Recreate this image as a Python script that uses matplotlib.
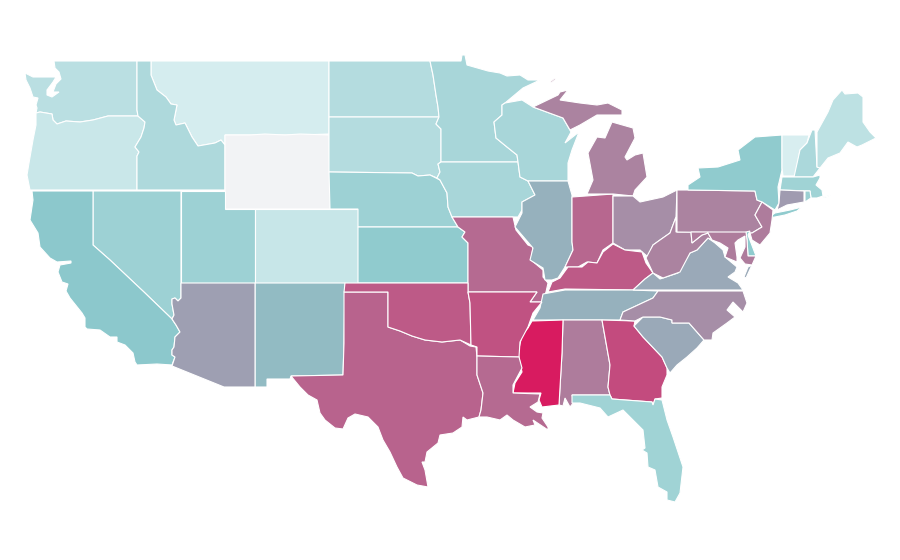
from __future__ import annotations

import matplotlib.pyplot as plt
from matplotlib.colors import LinearSegmentedColormap
from matplotlib.patches import Polygon

NO_DATA = "#f2f3f5"
states = ["MT", "WA", "OR", "ID", "WY", "NV", "UT", "CA", "CO", "NM", "AZ", "ND", "SD", "NE", "KS", "MN", "IA",
          "WI", "MO", "IL", "IN", "MI", "OH", "KY", "TN", "AL", "MS", "GA", "FL", "SC", "NC", "VA", "WV", "PA",
          "NY", "VT", "NH", "ME", "MA", "CT", "RI", "NJ", "DE", "MD", "TX", "OK", "AR", "LA"]
values = [2, 20, 10, 28, None, 39, 39, 50, 11, 54, 62, 24, 24, 39, 47, 32, 32,
          32, 77, 57, 78, 70, 67, 82, 57, 72, 100, 86, 37, 59, 67, 59, 70, 70,
          47, 0, 30, 18, 37, 63, 40, 72, 48, 72, 79, 82, 84, 77]

outlines = {
    "WA": [[(54, 61), (137, 61), (137, 110), (138, 116), (108, 116), (93, 120), (80, 122), (66, 121), (57, 124),
            (53, 120), (52, 114), (40, 112), (36, 113), (37, 108), (36, 105), (38, 98), (33, 97), (30, 88), (26, 80),
            (25, 73), (33, 77), (47, 77), (56, 77), (53, 82), (47, 90), (47, 95), (52, 97), (59, 92), (53, 92),
            (56, 84), (61, 79), (59, 72), (55, 68)]],
    "OR": [[(36, 113), (40, 112), (52, 114), (53, 120), (57, 124), (66, 121), (80, 122), (93, 120), (108, 116),
            (138, 116), (145, 122), (144, 128), (141, 137), (135, 147), (139, 152), (137, 156), (137, 190), (30, 190),
            (27, 175), (29, 163), (33, 140), (36, 125)]],
    "ID": [[(137, 61), (151, 61), (151, 75), (157, 90), (166, 97), (171, 104), (177, 105), (174, 120), (176, 125),
            (185, 123), (192, 137), (198, 146), (215, 143), (221, 140), (225, 145), (225, 190), (137, 190), (137, 156),
            (139, 152), (135, 147), (141, 137), (144, 128), (145, 122), (138, 116), (137, 110)]],
    "MT": [[(151, 61), (329, 61), (329, 134), (300, 135), (225, 135), (225, 145), (221, 140), (215, 143), (198, 146),
            (192, 137), (185, 123), (176, 125), (174, 120), (177, 105), (171, 104), (166, 97), (157, 90), (151, 75)]],
    "WY": [[(225, 135), (250, 135), (265, 134), (285, 135), (300, 134), (329, 135), (330, 209), (225, 209)]],
    "NV": [[(93, 191), (181, 191), (181, 298), (178, 301), (175, 298), (172, 299), (172, 304), (174, 315), (172, 319),
            (145, 293), (110, 260), (93, 245)]],
    "CA": [[(32, 191), (93, 191), (93, 245), (110, 260), (145, 293), (172, 319), (176, 325), (180, 332), (175, 337),
            (174, 347), (172, 350), (172, 355), (175, 357), (172, 365), (157, 364), (137, 365), (135, 362), (133, 353),
            (125, 345), (117, 342), (117, 337), (110, 337), (100, 330), (87, 329), (85, 327), (85, 318), (82, 313),
            (70, 298), (66, 291), (68, 284), (62, 282), (58, 272), (60, 265), (71, 263), (71, 261), (57, 262),
            (50, 258), (40, 247), (38, 233), (30, 220), (33, 200)]],
    "UT": [[(181, 191), (225, 191), (225, 209), (255, 209), (255, 283), (181, 283)]],
    "AZ": [[(181, 283), (225, 283), (234, 283), (255, 283), (255, 387), (224, 387), (172, 366), (175, 357), (172, 355),
            (172, 350), (174, 347), (175, 337), (180, 332), (176, 325), (172, 319), (174, 315), (172, 304), (172, 299),
            (175, 298), (178, 301), (181, 298)]],
    "CO": [[(255, 209), (358, 209), (358, 283), (255, 283)]],
    "NM": [[(255, 283), (345, 283), (344, 343), (343, 375), (291, 376), (290, 379), (267, 379), (267, 387), (255, 387)]],
    "TX": [[(344, 292), (388, 292), (388, 327), (400, 331), (412, 336), (425, 340), (442, 342), (460, 340), (470, 346),
            (476, 347), (477, 357), (477, 375), (483, 393), (481, 410), (479, 417), (467, 420), (463, 417), (462, 427),
            (453, 433), (440, 435), (438, 443), (427, 452), (425, 462), (422, 462), (425, 470), (428, 487), (417, 485),
            (403, 478), (397, 467), (390, 452), (383, 440), (378, 427), (368, 417), (355, 414), (348, 418), (343, 429),
            (335, 428), (325, 420), (320, 413), (317, 400), (308, 395), (300, 387), (291, 376), (343, 375), (344, 343)]],
    "OK": [[(345, 283), (468, 283), (468, 292), (470, 303), (471, 345), (460, 340), (442, 342), (425, 340), (412, 336),
            (400, 331), (388, 327), (388, 292), (344, 292)]],
    "KS": [[(358, 227), (458, 227), (465, 232), (462, 237), (468, 243), (468, 283), (358, 283)]],
    "NE": [[(329, 172), (412, 173), (418, 176), (430, 175), (440, 180), (447, 193), (448, 207), (452, 217), (458, 227),
            (358, 227), (358, 209), (330, 209)]],
    "SD": [[(329, 117), (439, 117), (436, 124), (441, 129), (441, 162), (438, 164), (440, 172), (437, 178), (430, 175),
            (418, 176), (412, 173), (329, 172)]],
    "ND": [[(329, 61), (430, 61), (433, 75), (436, 95), (438, 107), (439, 117), (329, 117)]],
    "MN": [[(430, 61), (461, 61), (462, 55), (465, 55), (467, 65), (488, 71), (500, 73), (507, 76), (520, 75), (528, 80),
            (540, 80), (523, 88), (505, 103), (502, 105), (502, 115), (494, 122), (496, 138), (507, 147), (517, 155),
            (518, 162), (441, 162), (441, 129), (436, 124), (439, 117), (438, 107), (436, 95), (433, 75)]],
    "WI": [[(502, 105), (505, 103), (522, 100), (533, 107), (563, 118), (571, 132), (565, 143), (579, 132), (572, 150),
            (568, 163), (568, 181), (528, 181), (520, 177), (518, 162), (517, 155), (507, 147), (496, 138), (494, 122),
            (502, 115)]],
    "IA": [[(441, 162), (518, 162), (520, 177), (528, 181), (535, 195), (522, 202), (522, 210), (518, 217), (452, 217),
            (448, 207), (447, 193), (440, 180), (437, 178), (440, 172), (438, 164)]],
    "MO": [[(452, 217), (513, 217), (516, 230), (528, 245), (533, 247), (531, 260), (543, 270), (543, 277), (548, 283),
            (546, 292), (542, 302), (530, 302), (537, 292), (468, 292), (468, 243), (462, 237), (465, 232), (458, 227)]],
    "AR": [[(468, 292), (537, 292), (530, 302), (542, 302), (533, 313), (528, 327), (520, 342), (519, 357), (477, 356),
            (477, 347), (471, 345), (470, 303)]],
    "LA": [[(477, 356), (519, 357), (522, 368), (513, 385), (513, 393), (540, 394), (538, 402), (530, 407), (537, 412),
            (543, 413), (542, 418), (548, 427), (548, 430), (533, 420), (535, 425), (525, 427), (513, 420), (507, 415),
            (500, 420), (487, 417), (479, 417), (481, 410), (483, 393), (477, 375)]],
    "MS": [[(532, 321), (563, 320), (562, 353), (559, 405), (542, 407), (539, 400), (541, 393), (513, 393), (515, 383),
            (522, 372), (518, 353), (522, 335), (528, 328)]],
    "AL": [[(563, 320), (602, 320), (610, 365), (608, 387), (610, 395), (572, 395), (574, 402), (570, 407), (565, 398),
            (563, 406), (559, 405), (562, 353)]],
    "GA": [[(602, 320), (635, 321), (634, 326), (643, 337), (662, 357), (667, 368), (667, 375), (662, 387), (662, 398),
            (655, 399), (653, 405), (652, 402), (612, 399), (610, 395), (608, 387), (610, 365)]],
    "SC": [[(634, 326), (643, 317), (660, 317), (672, 320), (672, 323), (689, 323), (704, 340), (697, 348), (687, 357),
            (677, 365), (670, 373), (667, 368), (662, 357), (643, 337)]],
    "FL": [[(572, 395), (610, 395), (612, 399), (652, 402), (653, 405), (655, 399), (662, 400), (667, 420), (673, 437),
            (683, 467), (680, 493), (675, 502), (667, 500), (667, 492), (658, 487), (655, 470), (648, 467), (647, 453),
            (642, 450), (645, 448), (643, 430), (635, 422), (623, 410), (608, 417), (600, 408), (580, 403), (572, 403)]],
    "TN": [[(543, 294), (565, 290), (632, 290), (658, 291), (653, 298), (638, 305), (623, 312), (620, 320), (563, 320),
            (533, 320), (540, 308)]],
    "KY": [[(548, 292), (552, 282), (560, 278), (568, 267), (582, 267), (588, 262), (597, 263), (603, 252), (613, 244),
            (625, 250), (642, 252), (646, 263), (653, 273), (645, 279), (633, 290), (565, 289)]],
    "IL": [[(528, 181), (568, 181), (572, 195), (572, 242), (573, 250), (565, 267), (558, 278), (552, 280), (545, 280),
            (543, 268), (530, 260), (533, 248), (515, 227), (522, 213), (522, 202), (535, 195)]],
    "IN": [[(572, 197), (613, 194), (613, 243), (603, 250), (597, 263), (587, 262), (578, 267), (565, 267), (573, 250),
            (572, 242)]],
    "MI": [[(587, 194), (613, 194), (633, 196), (635, 190), (647, 177), (643, 153), (635, 155), (627, 160), (625, 157),
            (635, 138), (633, 128), (612, 122), (605, 138), (597, 137), (588, 153), (593, 180)],
           [(533, 107), (558, 95), (560, 92), (568, 90), (560, 100), (580, 103), (597, 105), (608, 103), (622, 110),
            (622, 115), (597, 115), (580, 125), (570, 130), (563, 118)],
           [(550, 82), (555, 78), (556, 79), (551, 83)]],
    "OH": [[(613, 196), (633, 196), (640, 202), (663, 197), (677, 190), (676, 217), (670, 233), (660, 240), (653, 245),
            (648, 257), (640, 250), (625, 250), (613, 243)]],
    "WV": [[(676, 217), (676, 232), (691, 232), (692, 243), (702, 235), (708, 233), (712, 240), (708, 238), (697, 250),
            (690, 253), (680, 272), (663, 278), (653, 273), (646, 258), (653, 245), (660, 240), (670, 233)]],
    "PA": [[(677, 190), (688, 190), (755, 191), (757, 200), (762, 202), (755, 215), (762, 227), (752, 233), (677, 232)]],
    "NY": [[(688, 190), (688, 185), (700, 177), (698, 168), (718, 167), (740, 160), (738, 150), (755, 137), (782, 135),
            (782, 170), (778, 187), (779, 203), (775, 210), (762, 202), (757, 200), (755, 191)],
           [(768, 218), (775, 213), (790, 210), (802, 207), (797, 211), (785, 215), (775, 217)]],
    "NJ": [[(762, 202), (773, 210), (772, 220), (770, 233), (760, 245), (752, 240), (750, 233), (752, 233), (762, 227),
            (755, 215)]],
    "DE": [[(746, 232), (750, 231), (748, 235), (756, 256), (748, 256), (747, 240)]],
    "MD": [[(691, 232), (746, 232), (747, 240), (748, 256), (756, 256), (752, 265), (745, 264), (740, 258), (745, 247),
            (745, 236), (738, 240), (735, 243), (737, 257), (737, 262), (725, 257), (728, 248), (720, 243), (712, 240),
            (708, 233), (702, 235), (692, 243)]],
    "VA": [[(633, 290), (645, 279), (653, 273), (660, 279), (678, 273), (690, 253), (697, 250), (708, 238), (715, 243),
            (723, 250), (725, 257), (737, 267), (735, 272), (728, 277), (738, 283), (743, 290)],
           [(748, 267), (752, 265), (746, 278), (744, 277)]],
    "NC": [[(658, 291), (743, 291), (747, 303), (743, 312), (733, 302), (727, 310), (735, 317), (727, 323), (713, 333),
            (712, 340), (704, 340), (689, 323), (672, 323), (672, 320), (660, 317), (643, 317), (635, 321), (620, 320),
            (623, 312), (638, 305), (653, 298)]],
    "CT": [[(780, 190), (804, 191), (804, 202), (787, 205), (777, 210), (779, 203)]],
    "RI": [[(805, 191), (810, 191), (811, 198), (805, 202)]],
    "MA": [[(782, 177), (793, 177), (813, 177), (820, 175), (820, 178), (816, 185), (822, 190), (823, 196), (817, 198),
            (811, 198), (810, 191), (780, 190)],
           [(823, 197), (831, 195), (825, 198)]],
    "VT": [[(782, 135), (809, 135), (807, 143), (800, 150), (795, 176), (783, 176), (782, 168)]],
    "NH": [[(810, 135), (812, 130), (815, 130), (817, 167), (820, 168), (813, 177), (794, 177), (800, 150), (807, 143)]],
    "ME": [[(817, 132), (828, 112), (833, 100), (842, 90), (845, 94), (858, 93), (863, 97), (863, 122), (870, 132),
            (876, 138), (862, 145), (857, 147), (848, 142), (840, 153), (828, 158), (820, 168), (817, 167)]],
}

cmap = LinearSegmentedColormap.from_list("teal_crimson", ["#d8eef0", "#8cc9cc", "#d81b60"])

fig = plt.figure(figsize=(9, 5.6), dpi=100)
ax = fig.add_axes([0, 0, 1, 1])
ax.set_xlim(0, 900)
ax.set_ylim(560, 0)
ax.axis("off")

for state, value in zip(states, values):
    color = NO_DATA if value is None else cmap(value / 100)
    for ring in outlines[state]:
        ax.add_patch(Polygon(ring, closed=True, facecolor=color, edgecolor="white", linewidth=0.8))

fig.savefig("out.png", dpi=100)
plt.close(fig)
